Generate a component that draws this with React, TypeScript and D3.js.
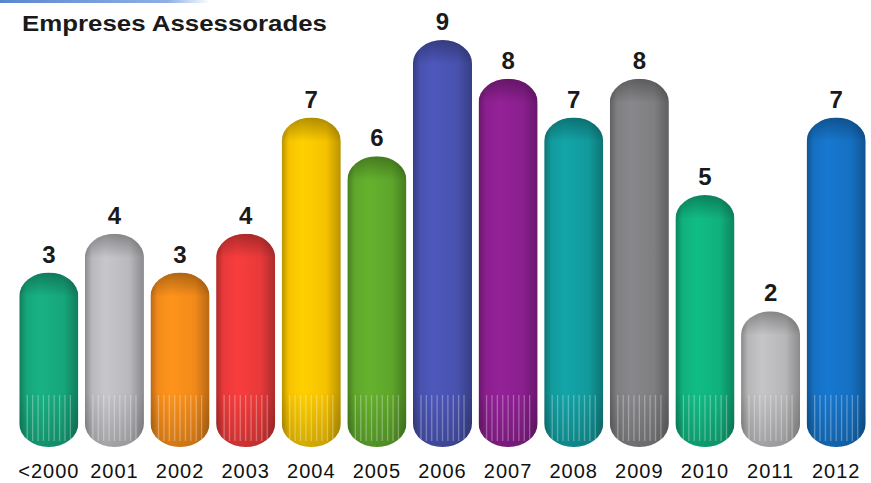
import React from "react";
import * as d3 from "d3";

const categories = ["<2000", "2001", "2002", "2003", "2004", "2005", "2006", "2007", "2008", "2009", "2010", "2011", "2012"];
const values = [3, 4, 3, 4, 7, 6, 9, 8, 7, 8, 5, 2, 7];
const colors = ["#16a67a", "#b9b9bd", "#f28a1a", "#e8393a", "#f6c200", "#5ea62b", "#4852ae", "#8a1f8e", "#129a9c", "#7f7f82", "#10b07c", "#b7b7b9", "#1570c2"];

const W = 871;
const H = 483;

export default function App() {
  const x = d3.scaleBand<string>().domain(categories).range([16, 869]).paddingInner(0.1).paddingOuter(0.05);
  const y = d3.scaleLinear().domain([-1.5, 9]).range([447, 40]);
  const bw = x.bandwidth();
  const r = bw / 2;

  return (
    <svg width={W} height={H} style={{ position: "absolute", left: 0, top: 0, background: "#fff" }} fontFamily="Arial, 'Liberation Sans', sans-serif">
      <defs>
        {colors.map((c, i) => {
          const base = d3.color(c)!;
          return (
            <linearGradient key={i} id={"g" + i} x1="0" x2="1" y1="0" y2="0">
              <stop offset="0" stopColor={base.darker(0.8).toString()} />
              <stop offset="0.12" stopColor={base.toString()} />
              <stop offset="0.35" stopColor={base.brighter(0.2).toString()} />
              <stop offset="0.75" stopColor={base.toString()} />
              <stop offset="1" stopColor={base.darker(0.8).toString()} />
            </linearGradient>
          );
        })}
        <linearGradient id="topShade" x1="0" x2="0" y1="0" y2="1">
          <stop offset="0" stopColor="#000" stopOpacity="0.3" />
          <stop offset="1" stopColor="#000" stopOpacity="0" />
        </linearGradient>
        <linearGradient id="botShade" x1="0" x2="0" y1="0" y2="1">
          <stop offset="0" stopColor="#000" stopOpacity="0" />
          <stop offset="1" stopColor="#000" stopOpacity="0.18" />
        </linearGradient>
        <linearGradient id="topLine" x1="0" x2="1" y1="0" y2="0">
          <stop offset="0" stopColor="#5b86cf" />
          <stop offset="0.8" stopColor="#8fb0e6" />
          <stop offset="1" stopColor="#ffffff" />
        </linearGradient>
        {categories.map((cat, i) => {
          const top = y(values[i]);
          const bottom = y(-1.5);
          return (
            <clipPath key={cat} id={"c" + i}>
              <rect x={x(cat)!} y={top} width={bw} height={bottom - top} rx={r} ry={r * 0.8} />
            </clipPath>
          );
        })}
      </defs>
      <rect x={0} y={0} width={210} height={3} fill="url(#topLine)" />
      <text x={22} y={31} fontSize={22} fontWeight="bold" fill="#1a1a1a" textLength={305} lengthAdjust="spacingAndGlyphs">Empreses Assessorades</text>
      {categories.map((cat, i) => {
        const bx = x(cat)!;
        const top = y(values[i]);
        const bottom = y(-1.5);
        const h = bottom - top;
        const stripes = d3.range(9).map((k) => bx + 8 + k * ((bw - 16) / 8));
        return (
          <g key={cat}>
            <g clipPath={`url(#c${i})`}>
              <rect x={bx} y={top} width={bw} height={h} fill={`url(#g${i})`} />
              <rect x={bx} y={top} width={bw} height={24} fill="url(#topShade)" />
              <rect x={bx} y={bottom - 55} width={bw} height={55} fill="url(#botShade)" />
              {stripes.map((sx, k) => (
                <line key={k} x1={sx} x2={sx} y1={bottom - 52} y2={bottom - 6} stroke="#fff" strokeOpacity={0.3} strokeWidth={1.3} />
              ))}
            </g>
            <text x={bx + bw / 2} y={top - 10} textAnchor="middle" fontSize={24} fontWeight="bold" fill="#1a1a1a">{values[i]}</text>
            <text x={bx + bw / 2} y={478} textAnchor="middle" fontSize={20} letterSpacing={1} fill="#111">{cat}</text>
          </g>
        );
      })}
    </svg>
  );
}
